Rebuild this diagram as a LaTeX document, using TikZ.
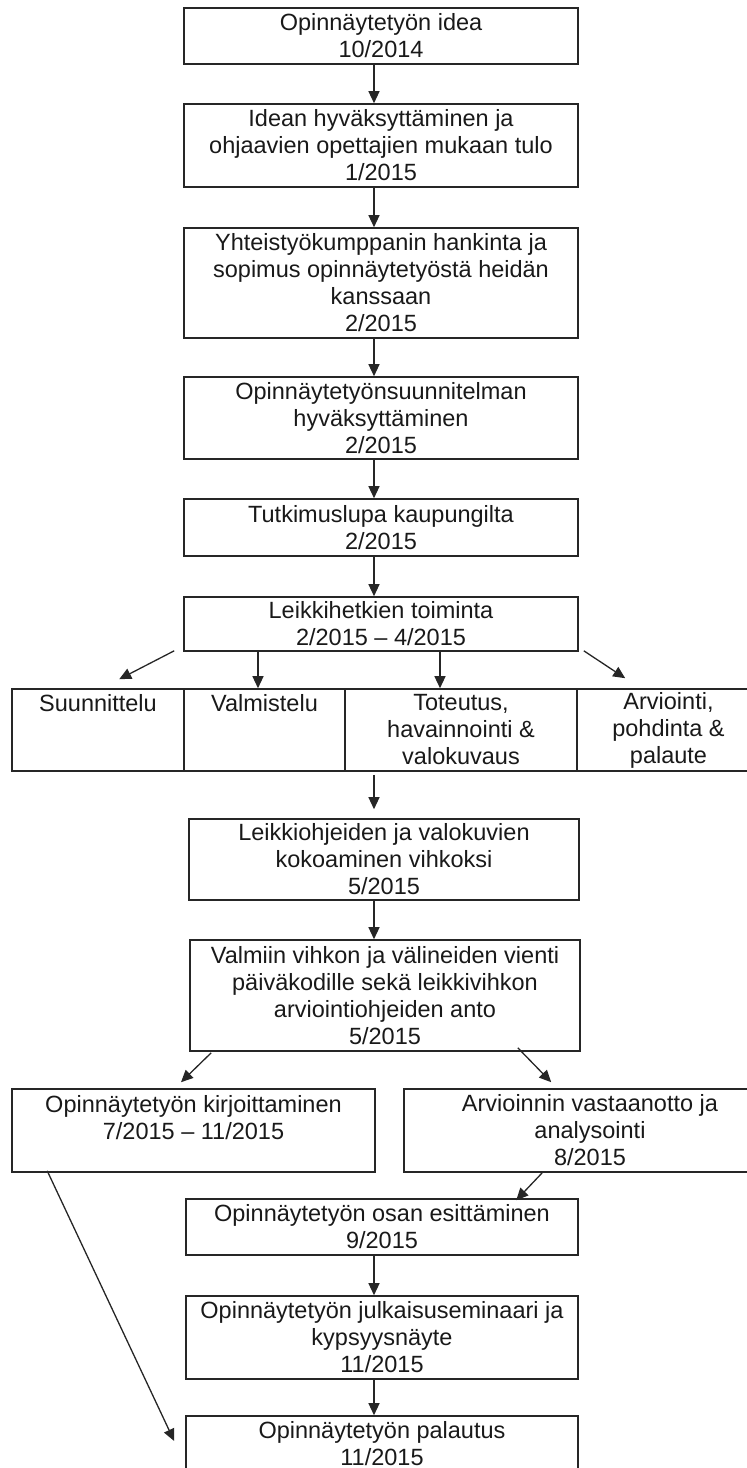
\documentclass[tikz,border=0pt]{standalone}
\usepackage{fontspec}
\setmainfont{Liberation Sans}
\usetikzlibrary{arrows.meta}
\begin{document}
\begin{tikzpicture}[x=0.5pt, y=-0.5pt,
  box/.style={draw=black!85, line width=0.8pt, inner sep=0pt, align=center, text=black!90,
    font=\fontsize{11.75pt}{13.5pt}\selectfont},
  arr/.style={draw=black!85, line width=0.65pt, -{Triangle[length=6pt,width=5.5pt]}}]
\useasboundingbox (0,0) rectangle (746,1468);
\coordinate (ax) at (374,0);
\coordinate (c2) at (258,0);
\coordinate (c3) at (440,0);
\node[box, minimum width=197pt, minimum height=28pt] (idea) at (381,36) {Opinnäytetyön idea\\10/2014};
\node[box, minimum width=197pt, minimum height=41.5pt] (hyv) at (381,145.5) {Idean hyväksyttäminen ja\\ohjaavien opettajien mukaan tulo\\1/2015};
\node[box, minimum width=197pt, minimum height=55pt] (yht) at (381,283) {Yhteistyökumppanin hankinta ja\\sopimus opinnäytetyöstä heidän\\kanssaan\\2/2015};
\node[box, minimum width=197pt, minimum height=41pt] (suun) at (381,418) {Opinnäytetyönsuunnitelman\\hyväksyttäminen\\2/2015};
\node[box, minimum width=197pt, minimum height=28.5pt] (lupa) at (381,527.5) {Tutkimuslupa kaupungilta\\2/2015};
\node[box, minimum width=197pt, minimum height=27pt] (leikki) at (381,624) {Leikkihetkien toiminta\\2/2015 – 4/2015};
\node[box, minimum width=86pt, minimum height=41pt] (r1) at (98,730) {Suunnittelu\\\mbox{}\\\mbox{}};
\node[box, minimum width=80.5pt, minimum height=41pt] (r2) at (264.5,730) {Valmistelu\\\mbox{}\\\mbox{}};
\node[box, minimum width=116pt, minimum height=41pt] (r3) at (461,730) {Toteutus,\\havainnointi \&\\valokuvaus};
\node[box, minimum width=91.5pt, minimum height=41pt] (r4) at (668.5,730) {Arviointi,\\pohdinta \&\\palaute};
\node[box, minimum width=195pt, minimum height=40.5pt] (kok) at (384,859.5) {Leikkiohjeiden ja valokuvien\\kokoaminen vihkoksi\\5/2015};
\node[box, minimum width=195pt, minimum height=55.5pt] (vienti) at (385,995.5) {Valmiin vihkon ja välineiden vienti\\päiväkodille sekä leikkivihkon\\arviointiohjeiden anto\\5/2015};
\node[box, minimum width=181.5pt, minimum height=41.5pt] (kirj) at (193.5,1130.5) {Opinnäytetyön kirjoittaminen\\7/2015 – 11/2015\\\mbox{}};
\node[box, minimum width=186pt, minimum height=41.5pt] (arv) at (590,1130.5) {Arvioinnin vastaanotto ja\\analysointi\\8/2015};
\node[box, minimum width=196pt, minimum height=28pt] (osa) at (382,1227) {Opinnäytetyön osan esittäminen\\9/2015};
\node[box, minimum width=196pt, minimum height=41.5pt] (sem) at (382,1337.5) {Opinnäytetyön julkaisuseminaari ja\\kypsyysnäyte\\11/2015};
\node[box, minimum width=196pt, minimum height=28pt] (pal) at (382,1444) {Opinnäytetyön palautus\\11/2015};
\draw[arr] (idea.south -| ax) -- (hyv.north -| ax);
\draw[arr] (hyv.south -| ax) -- (yht.north -| ax);
\draw[arr] (yht.south -| ax) -- (suun.north -| ax);
\draw[arr] (suun.south -| ax) -- (lupa.north -| ax);
\draw[arr] (lupa.south -| ax) -- (leikki.north -| ax);
\draw[arr] ([shift={(-9,-1)}]leikki.south west) -- ([shift={(108,-9)}]r1.north west);
\draw[arr] (leikki.south -| c2) -- (r2.north -| c2);
\draw[arr] (leikki.south -| c3) -- (r3.north -| c3);
\draw[arr] ([shift={(5,-1)}]leikki.south east) -- ([shift={(49,-10)}]r4.north west);
\draw[arr, shorten <=1.5pt, shorten >=4.5pt] (r3.south -| ax) -- (kok.north -| ax);
\draw[arr] (kok.south -| ax) -- (vienti.north -| ax);
\draw[arr] ([shift={(22,1)}]vienti.south west) -- ([shift={(-12.5,-6)}]kirj.north);
\draw[arr] ([shift={(-63,-4)}]vienti.south east) -- ([shift={(148,-6)}]arv.north west);
\draw[arr] ([shift={(139,0)}]arv.south west) -- ([shift={(331,2)}]osa.north west);
\draw[arr] (osa.south -| ax) -- (sem.north -| ax);
\draw[arr] (sem.south -| ax) -- (pal.north -| ax);
\draw[arr] ([shift={(36,-2)}]kirj.south west) -- ([shift={(-11,-3)}]pal.west);
\end{tikzpicture}
\end{document}
